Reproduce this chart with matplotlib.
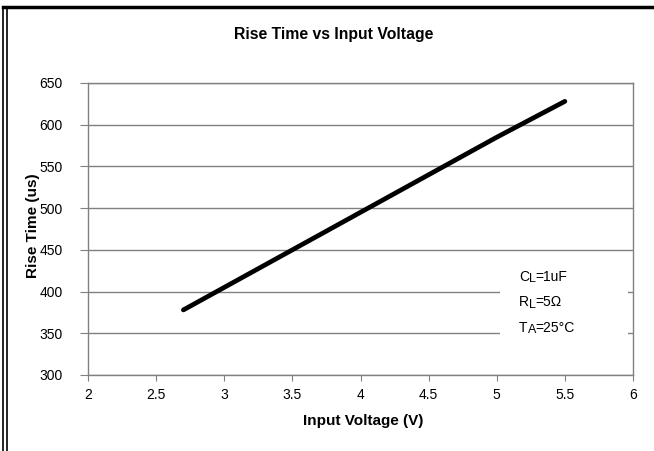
import matplotlib.pyplot as plt
from matplotlib.lines import Line2D

plt.rcParams['font.family'] = ['Liberation Sans', 'DejaVu Sans']

voltage = [2.7, 3.0, 3.5, 4.0, 4.5, 5.0, 5.5]
rise_time = [378, 405, 450, 495, 540, 585, 628]
x_ticks = [2, 2.5, 3, 3.5, 4, 4.5, 5, 5.5, 6]
y_ticks = [300, 350, 400, 450, 500, 550, 600, 650]
conditions = [('C', 'L', '=1uF'), ('R', 'L', '=5Ω'), ('T', 'A', '=25°C')]

W, H = 654, 451
fig = plt.figure(figsize=(W / 100, H / 100), dpi=100)
ax = fig.add_axes([88 / W, 1 - 375 / H, 545 / W, 292 / H])

ax.plot(voltage, rise_time, color='black', linewidth=3.4, solid_capstyle='round', zorder=3)

ax.set_xlim(2, 6)
ax.set_ylim(300, 650)
ax.set_xticks(x_ticks)
ax.set_xticklabels(['2', '2.5', '3', '3.5', '4', '4.5', '5', '5.5', '6'])
ax.set_yticks(y_ticks)
ax.grid(axis='y', color='#808080', linewidth=1)
ax.set_axisbelow(True)
for s in ax.spines.values():
    s.set_color('#808080')
    s.set_linewidth(1)
ax.tick_params(axis='x', direction='out', length=4.5, color='#808080', labelsize=10, pad=5)
ax.tick_params(axis='y', direction='out', length=6, color='#808080', labelsize=10, pad=12)

ax.set_xlabel('Input Voltage (V)', fontsize=11, fontweight='bold')
ax.set_ylabel('Rise Time (us)', fontsize=11, fontweight='bold')
ax.xaxis.set_label_coords((363 - 88) / 545, (375 - 414) / 292)
ax.yaxis.set_label_coords((40 - 88) / 545, 0.51)

fig.text(334 / W, 1 - 34 / H, 'Rise Time vs Input Voltage', ha='center', va='center',
         fontsize=11.3, fontweight='bold')

# white box with the test conditions
fig.patches.append(plt.Rectangle((500 / W, 1 - 350 / H), 128 / W, 98 / H, transform=fig.transFigure,
                                 facecolor='white', edgecolor='none', zorder=2))
renderer = fig.canvas.get_renderer()
for i, (main, sub, rest) in enumerate(conditions):
    yc = 277 + i * 25.5
    x = 519
    for txt, size, dy in [(main, 10, 0), (sub, 9, 2), (rest, 10, 0)]:
        t = fig.text(x / W, 1 - (yc + dy) / H, txt, fontsize=size, va='center')
        x += t.get_window_extent(renderer).width

# outer frame
fig.add_artist(Line2D([3 / W, 1], [1 - 7 / H] * 2, color='black', linewidth=2.5, transform=fig.transFigure))
fig.add_artist(Line2D([3 / W] * 2, [0, 1 - 7 / H], color='black', linewidth=1.2, transform=fig.transFigure))
fig.add_artist(Line2D([7 / W] * 2, [0, 1 - 7 / H], color='black', linewidth=1.2, transform=fig.transFigure))

fig.savefig('out.png', dpi=100)
